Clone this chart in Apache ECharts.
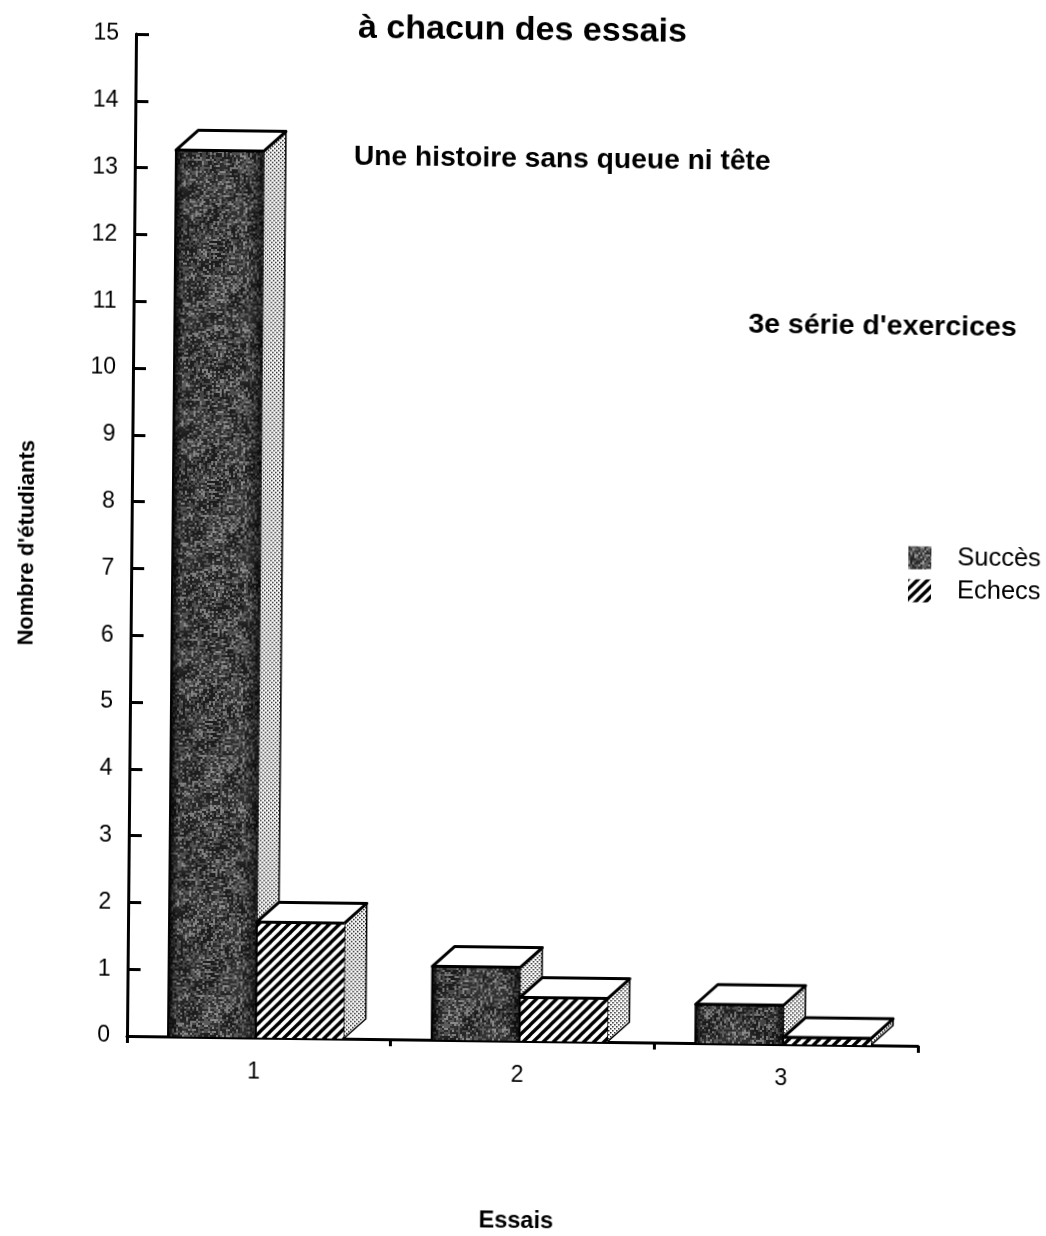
<!DOCTYPE html>
<html>
<head>
<meta charset="utf-8">
<title>Une histoire sans queue ni tête</title>
<script src="https://cdn.jsdelivr.net/npm/echarts@6/dist/echarts.min.js"></script>
<style>
html,body{margin:0;padding:0;background:#fff;overflow:hidden;}
/* the original is a slightly crooked scan */
#main{width:1046px;height:1236px;transform-origin:127px 1036px;transform:matrix(1,0.0125,-0.009,1,0,0);}
</style>
</head>
<body>
<div id="main"></div>
<script>
var categories = ['1', '2', '3'];
var succes = [13.27, 1.1, 0.58];
var echecs = [1.73, 0.65, 0.1];
var yMax = 15;

// textures of the faces
function tile(w, h, draw) {
	var c = document.createElement('canvas');
	c.width = w;
	c.height = h;
	draw(c.getContext('2d'), w, h);
	return c;
}

var seed = 12345;
function grain() {
	seed = (seed * 1103515245 + 12345) & 0x7fffffff;
	return (seed >> 8) % 100;
}

// grey speckle: a fine layer, then a coarse layer for the light blotches
function speckle(size, levels) {
	return tile(size, size, function (ctx, w, h) {
		var img = ctx.createImageData(w, h);
		for (var i = 0; i < w * h; i++) {
			var g = levels(grain());
			img.data[i * 4] = img.data[i * 4 + 1] = img.data[i * 4 + 2] = g;
			img.data[i * 4 + 3] = 255;
		}
		ctx.putImageData(img, 0, 0);
	});
}

var noiseTile = tile(240, 240, function (ctx, w, h) {
	ctx.imageSmoothingEnabled = false;
	ctx.drawImage(speckle(120, function (n) {
		return n < 45 ? 30 : (n < 80 ? 85 : 150);
	}), 0, 0, w, h);
	ctx.imageSmoothingEnabled = true;
	ctx.globalAlpha = 0.18;
	ctx.drawImage(speckle(24, function (n) {
		return n < 55 ? 40 : 175;
	}), 0, 0, w, h);
});

var hatchTile = tile(10, 10, function (ctx, w, h) {
	ctx.fillStyle = '#fff';
	ctx.fillRect(0, 0, w, h);
	ctx.strokeStyle = '#000';
	ctx.lineWidth = 3.4;
	[[-5, 5, 5, -5], [0, 10, 10, 0], [5, 15, 15, 5]].forEach(function (l) {
		ctx.beginPath();
		ctx.moveTo(l[0], l[1]);
		ctx.lineTo(l[2], l[3]);
		ctx.stroke();
	});
});

var dotTile = tile(4, 4, function (ctx, w, h) {
	ctx.fillStyle = '#fff';
	ctx.fillRect(0, 0, w, h);
	ctx.fillStyle = '#222';
	ctx.fillRect(0, 0, 1.5, 1.5);
	ctx.fillRect(2, 2, 1.5, 1.5);
});

var noise = {image: noiseTile, repeat: 'repeat'};
var hatch = {image: hatchTile, repeat: 'repeat'};
var dots = {image: dotTile, repeat: 'repeat'};

// one box per value, slot 0 stands left of the band centre, slot 1 right of it
function box(slot, front, dark) {
	return function (params, api) {
		var base = api.coord([api.value(0), 0]);
		var top = api.coord([api.value(0), api.value(1)]);
		var w = api.size([1, 0])[0] * 0.333;
		var x0 = base[0] - 3 + (slot - 1) * w;
		var x1 = x0 + w;
		var dx = 22, dy = 20;
		var line = {stroke: '#000', lineWidth: 3, lineJoin: 'round'};
		var children = [
			{type: 'polygon', shape: {points: [[x1, base[1]], [x1 + dx, base[1] - dy], [x1 + dx, top[1] - dy], [x1, top[1]]]},
				style: {fill: dots, stroke: '#000', lineWidth: 1.5}},
			{type: 'polygon', shape: {points: [[x0, top[1]], [x0 + dx, top[1] - dy], [x1 + dx, top[1] - dy], [x1, top[1]]]},
				style: Object.assign({fill: '#fff'}, line)},
			{type: 'rect', shape: {x: x0, y: top[1], width: w, height: base[1] - top[1]},
				style: {fill: front}}
		];
		if (dark) {
			children.push({type: 'rect', shape: {x: x0, y: top[1], width: w, height: base[1] - top[1]},
				style: {fill: new echarts.graphic.LinearGradient(0, 0, 1, 0, [
					{offset: 0, color: 'rgba(0,0,0,0.9)'},
					{offset: 0.1, color: 'rgba(0,0,0,0.1)'},
					{offset: 0.85, color: 'rgba(0,0,0,0.1)'},
					{offset: 1, color: 'rgba(0,0,0,0.7)'}
				])}});
		}
		children.push({type: 'line', shape: {x1: x0, y1: top[1], x2: x1, y2: top[1]}, style: line});
		children.push({type: 'line', shape: {x1: x0, y1: top[1], x2: x0, y2: base[1]}, style: {stroke: '#000', lineWidth: 2}});
		return {type: 'group', children: children};
	};
}

function pairs(values) {
	return values.map(function (v, i) {
		return [i, v];
	});
}

var font = '"Liberation Sans", Arial, sans-serif';

var myChart = echarts.init(document.getElementById('main'));
var option = {
	animation: false,
	backgroundColor: '#fff',
	textStyle: {fontFamily: font, color: '#000'},
	title: [
		{text: 'à chacun des essais', left: 344, top: 4, textStyle: {fontFamily: font, fontSize: 34, fontWeight: 'bold', color: '#000'}},
		{text: 'Une histoire sans queue ni tête', left: 341, top: 135, textStyle: {fontFamily: font, fontSize: 28.2, fontWeight: 'bold', color: '#000'}},
		{text: "3e série d'exercices", left: 737, top: 298, textStyle: {fontFamily: font, fontSize: 28.5, fontWeight: 'bold', color: '#000'}}
	],
	legend: {
		orient: 'vertical',
		left: 899,
		top: 530,
		itemWidth: 23,
		itemHeight: 23,
		itemGap: 7,
		icon: 'rect',
		textStyle: {fontFamily: font, fontSize: 25.5, color: '#000', padding: [0, 0, 0, 21]},
		data: ['Succès', 'Echecs']
	},
	grid: {left: 127, top: 34, width: 791, height: 1002, outerBoundsMode: 'none'},
	xAxis: {
		type: 'category',
		data: categories,
		name: 'Essais',
		nameLocation: 'middle',
		nameGap: 169,
		nameTextStyle: {fontFamily: font, fontSize: 23.5, fontWeight: 'bold', color: '#000', padding: [0, 10, 0, 0]},
		axisLine: {lineStyle: {color: '#000', width: 3}},
		axisTick: {show: true, length: 7, lineStyle: {color: '#000', width: 3}},
		axisLabel: {fontFamily: font, fontSize: 23, color: '#000', margin: 23, padding: [0, 10, 0, 0]}
	},
	yAxis: {
		type: 'value',
		min: 0,
		max: yMax,
		interval: 1,
		name: "Nombre d'étudiants",
		nameLocation: 'middle',
		nameGap: 93,
		nameTextStyle: {fontFamily: font, fontSize: 22, fontWeight: 'bold', color: '#000', padding: [0, 18, 0, 0]},
		splitLine: {show: false},
		axisLine: {show: true, lineStyle: {color: '#000', width: 3}},
		axisTick: {show: true, inside: true, length: 13, lineStyle: {color: '#000', width: 3}},
		axisLabel: {fontFamily: font, fontSize: 23, color: '#000', margin: 17}
	},
	series: [
		{
			name: 'Succès',
			type: 'custom',
			renderItem: box(0, noise, true),
			encode: {x: 0, y: 1},
			itemStyle: {color: noise},
			data: pairs(succes)
		},
		{
			name: 'Echecs',
			type: 'custom',
			renderItem: box(1, hatch, false),
			encode: {x: 0, y: 1},
			itemStyle: {color: hatch},
			data: pairs(echecs)
		}
	]
};
myChart.setOption(option);
</script>
</body>
</html>
